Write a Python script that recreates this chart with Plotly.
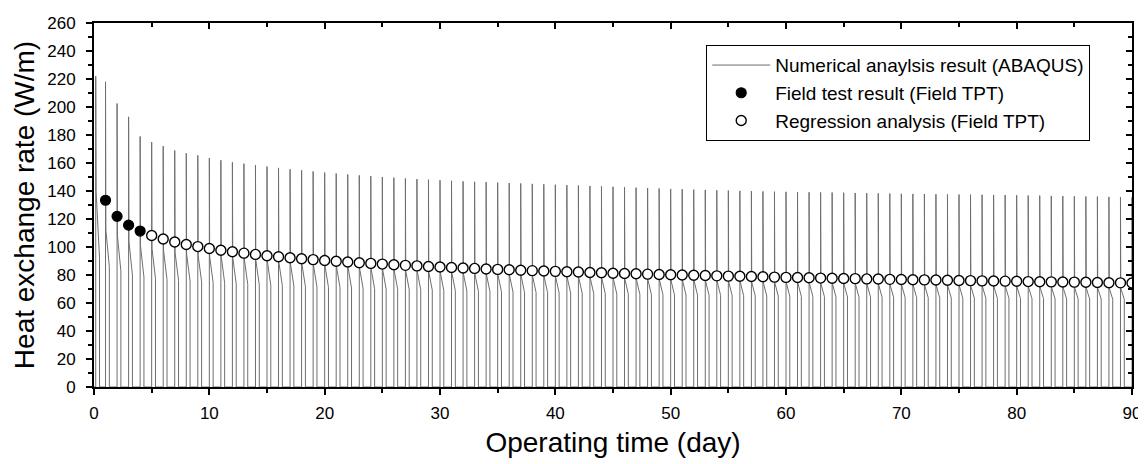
import plotly.graph_objects as go

# ---------------- data ----------------
# start time of each daily operation cycle (day)
cycle_start = [0.15] + list(range(1, 91))

# peak heat exchange rate at the start of each cycle (W/m)
peak = [222, 218, 202.5, 193, 179, 175, 172, 169, 167, 165.5, 163.5,
        162, 160.5, 159.5, 158.5, 157.5, 156.5, 155.5, 154.8, 154, 153.2,
        152.5, 151.8, 151.2, 150.6, 150.0, 149.5, 149.0, 148.5, 148.1, 147.7,
        147.3, 146.9, 146.6, 146.3, 146.0, 145.7, 145.4, 145.1, 144.8, 144.5,
        144.2, 143.9, 143.6, 143.3, 143.0, 142.7, 142.4, 142.1, 141.8, 141.5,
        141.3, 141.0, 140.8, 140.5, 140.3, 140.1, 139.9, 139.7, 139.5, 139.4,
        139.2, 139.1, 139.0, 138.9, 138.8, 138.6, 138.5, 138.3, 138.2, 138.0,
        137.9, 137.8, 137.7, 137.6, 137.5, 137.4, 137.3, 137.2, 137.1, 137.0,
        136.8, 136.7, 136.5, 136.4, 136.2, 136.1, 136.0, 135.8, 135.7, 135.5]

# value right after the steep initial drop of each cycle (W/m)
knee = [140, 112, 108, 104, 101, 99, 97.5, 96, 95, 94, 93.2,
        93.5, 92.5, 91.6, 90.7, 89.8, 89.0, 88.3, 87.6, 87.0, 86.4,
        85.8, 85.3, 84.7, 84.3, 83.8, 83.3, 82.9, 82.5, 82.1, 81.7,
        81.4, 81.0, 80.7, 80.3, 80.0, 79.7, 79.4, 79.1, 78.9, 78.6,
        78.3, 78.1, 77.8, 77.6, 77.3, 77.1, 76.9, 76.6, 76.4, 76.2,
        76.0, 75.8, 75.6, 75.4, 75.2, 75.1, 74.9, 74.7, 74.5, 74.3,
        74.2, 74.0, 73.8, 73.7, 73.5, 73.4, 73.2, 73.1, 72.9, 72.8,
        72.6, 72.5, 72.4, 72.2, 72.1, 72.0, 71.8, 71.7, 71.6, 71.5,
        71.3, 71.2, 71.1, 71.0, 70.9, 70.8, 70.6, 70.5, 70.4, 70.3]

# value at the end of each operation period, before switching off (W/m)
end_val = [92, 86, 83, 80, 78.5, 77.5, 76.8, 76.2, 75.6, 75.1, 74.6,
           74.2, 73.8, 73.4, 73.0, 72.7, 72.4, 72.1, 71.8, 71.5, 71.2,
           71.0, 70.7, 70.5, 70.2, 70.0, 69.8, 69.6, 69.4, 69.2, 69.0,
           68.8, 68.6, 68.4, 68.2, 68.0, 67.8, 67.6, 67.5, 67.3, 67.2,
           67.0, 66.9, 66.7, 66.6, 66.4, 66.3, 66.2, 66.0, 65.9, 65.8,
           65.7, 65.6, 65.5, 65.4, 65.3, 65.2, 65.1, 65.0, 64.9, 64.8,
           64.7, 64.6, 64.5, 64.4, 64.3, 64.2, 64.2, 64.1, 64.0, 63.9,
           63.8, 63.8, 63.7, 63.6, 63.5, 63.5, 63.4, 63.3, 63.3, 63.2,
           63.1, 63.1, 63.0, 62.9, 62.9, 62.8, 62.8, 62.7, 62.6, 62.6]

# field test results (filled circles)
field_days = [1, 2, 3, 4]
field_vals = [133.4, 121.9, 115.6, 111.4]

# regression analysis (open circles)
reg_days = list(range(5, 91))
reg_vals = [108.2, 105.7, 103.6, 101.8, 100.3, 98.9, 97.7, 96.6, 95.6, 94.7,
            93.8, 93.0, 92.3, 91.6, 91.0, 90.4, 89.8, 89.3, 88.7, 88.3,
            87.8, 87.3, 86.9, 86.5, 86.1, 85.7, 85.4, 85.0, 84.7, 84.3,
            84.0, 83.7, 83.4, 83.1, 82.9, 82.6, 82.3, 82.1, 81.8, 81.6,
            81.3, 81.1, 80.9, 80.6, 80.4, 80.2, 80.0, 79.8, 79.6, 79.4,
            79.2, 79.1, 78.9, 78.7, 78.5, 78.3, 78.2, 78.0, 77.8, 77.7,
            77.5, 77.4, 77.2, 77.1, 76.9, 76.8, 76.6, 76.5, 76.4, 76.2,
            76.1, 76.0, 75.8, 75.7, 75.6, 75.5, 75.3, 75.2, 75.1, 75.0,
            74.9, 74.8, 74.6, 74.5, 74.4, 74.3]

on_duration = 0.33   # fraction of a day the system operates
knee_time = 0.03

# ---------------- build numerical (ABAQUS) trace ----------------
num_x, num_y = [0.0], [0.0]
for t0, p, k, e in zip(cycle_start, peak, knee, end_val):
    num_x += [t0, t0, t0 + knee_time, t0 + on_duration, t0 + on_duration]
    num_y += [0, p, k, e, 0]

FONT = "Liberation Sans, Arial, sans-serif"

fig = go.Figure()
fig.add_trace(go.Scatter(
    x=num_x, y=num_y, mode="lines",
    line=dict(color="#6e6e6e", width=1),
    name="Numerical anaylsis result (ABAQUS)"))
fig.add_trace(go.Scatter(
    x=field_days, y=field_vals, mode="markers",
    marker=dict(symbol="circle", size=10, color="black",
                line=dict(color="black", width=1.2)),
    name="Field test result (Field TPT)"))
fig.add_trace(go.Scatter(
    x=reg_days, y=reg_vals, mode="markers",
    marker=dict(symbol="circle", size=10, color="white",
                line=dict(color="black", width=1.4)),
    name="Regression analysis (Field TPT)"))
# dummy trace for the mirrored (top/right) axes
fig.add_trace(go.Scatter(x=[None], y=[None], xaxis="x2", yaxis="y2",
                         showlegend=False, hoverinfo="skip"))

axis_common = dict(showline=True, linecolor="black", linewidth=2,
                   showgrid=False, zeroline=False, tickcolor="black",
                   tickwidth=2, ticklen=6, automargin=False)
tickfont = dict(family=FONT, size=17, color="black")

# the page body adds an 8px offset, so the figure is 8px smaller
fig.update_layout(
    width=1138, height=456,
    margin=dict(l=86, r=14, t=15, b=77),
    paper_bgcolor="white", plot_bgcolor="white",
    font=dict(family=FONT, color="black"),
    showlegend=True,
    legend=dict(x=0.5898, y=0.939, xanchor="left", yanchor="top",
                bgcolor="white", bordercolor="black", borderwidth=1,
                font=dict(family=FONT, size=19, color="black"),
                tracegroupgap=0, itemwidth=58),
    xaxis=dict(range=[0, 90], tick0=0, dtick=10, ticks="outside",
               tickfont=tickfont, ticklabelstandoff=4,
               minor=dict(dtick=5, ticks="outside", ticklen=4,
                          tickwidth=2, tickcolor="black"),
               title=dict(text="Operating time (day)",
                          font=dict(family=FONT, size=28, color="black"),
                          standoff=10),
               **axis_common),
    yaxis=dict(range=[0, 260], tick0=0, dtick=20, ticks="outside",
               tickfont=tickfont, ticklabelstandoff=7,
               minor=dict(dtick=10, ticks="outside", ticklen=4,
                          tickwidth=2, tickcolor="black"),
               title=dict(text="Heat exchange rate (W/m)",
                          font=dict(family=FONT, size=28, color="black"),
                          standoff=4),
               **axis_common),
    xaxis2=dict(range=[0, 90], overlaying="x", side="top", anchor="y",
                tick0=0, dtick=10, ticks="inside", showticklabels=False,
                minor=dict(dtick=5, ticks="inside", ticklen=4,
                           tickwidth=2, tickcolor="black"),
                **axis_common),
    yaxis2=dict(range=[0, 260], overlaying="y", side="right", anchor="x",
                tick0=0, dtick=20, ticks="inside", showticklabels=False,
                minor=dict(dtick=10, ticks="inside", ticklen=4,
                           tickwidth=2, tickcolor="black"),
                **axis_common),
)

fig.write_html("out.html")
